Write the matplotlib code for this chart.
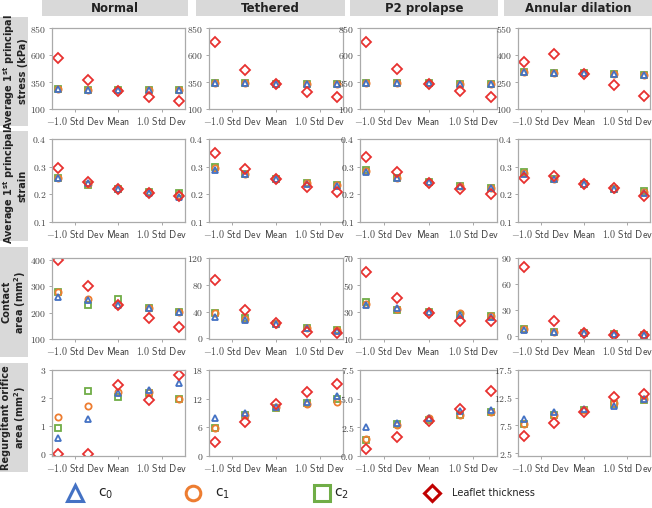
import numpy as np
import matplotlib
matplotlib.use('Agg')
import matplotlib.pyplot as plt
from matplotlib.patches import Rectangle

plt.rcParams['mathtext.fontset'] = 'cm'
plt.rcParams['mathtext.default'] = 'regular'

# ---- data -------------------------------------------------------------
conditions = ['Normal', 'Tethered', 'P2 prolapse', 'Annular dilation']
x_pos = [-1.4, -0.7, 0.0, 0.7, 1.4]          # std-dev offsets of the 5 samples
x_ticks = [-1.0, 0.0, 1.0]
x_ticklabels = ['-1.0 Std Dev', 'Mean', '1.0 Std Dev']

row_labels = ['Average 1$^{st}$ principal\nstress (kPa)',
              'Average 1$^{st}$ principal\nstrain',
              'Contact\narea (mm$^2$)',
              'Regurgitant orifice\narea (mm$^2$)']

# average 1st principal stress (kPa)
stress_c0 = [[282, 278, 277, 277, 277], [339, 337, 333, 332, 332],
             [344, 342, 337, 334, 334], [306, 300, 298, 293, 287]]
stress_c1 = [[282, 278, 276, 277, 277], [339, 337, 333, 332, 332],
             [344, 342, 337, 334, 334], [306, 300, 298, 293, 287]]
stress_c2 = [[282, 278, 277, 277, 277], [339, 337, 333, 332, 332],
             [344, 342, 337, 334, 334], [306, 300, 298, 293, 287]]
stress_th = [[571, 370, 271, 215, 178], [717, 463, 333, 258, 209],
             [722, 466, 334, 263, 210], [359, 404, 293, 235, 175]]

# average 1st principal strain
strain_c0 = [[0.258, 0.240, 0.221, 0.206, 0.191], [0.288, 0.272, 0.255, 0.238, 0.230],
             [0.282, 0.260, 0.243, 0.229, 0.223], [0.275, 0.257, 0.236, 0.219, 0.205]]
strain_c1 = [[0.258, 0.238, 0.221, 0.208, 0.198], [0.295, 0.275, 0.255, 0.240, 0.232],
             [0.285, 0.260, 0.243, 0.230, 0.223], [0.278, 0.255, 0.236, 0.221, 0.210]]
strain_c2 = [[0.258, 0.233, 0.221, 0.209, 0.205], [0.297, 0.272, 0.255, 0.242, 0.234],
             [0.288, 0.260, 0.243, 0.231, 0.224], [0.282, 0.254, 0.236, 0.221, 0.213]]
strain_th = [[0.294, 0.246, 0.221, 0.206, 0.193], [0.349, 0.291, 0.255, 0.227, 0.209],
             [0.336, 0.280, 0.242, 0.219, 0.201], [0.258, 0.266, 0.236, 0.224, 0.195]]

# contact area (mm^2)
contact_c0 = [[260, 248, 230, 219, 204], [32, 28, 22, 15, 11],
              [35, 33, 30, 28, 26], [7, 4.5, 3, 2, 1.5]]
contact_c1 = [[278, 253, 230, 219, 204], [38, 29, 22, 16, 12],
              [36, 32, 30, 29, 27], [8, 4.5, 3, 2, 1.5]]
contact_c2 = [[278, 231, 253, 219, 204], [38.5, 30, 22, 16, 12],
              [37.3, 31.7, 30, 28, 27], [8.2, 4.5, 3, 2, 1.5]]
contact_th = [[400, 302, 228, 181, 145], [86.4, 42, 22.5, 10, 7.4],
              [59.6, 40.2, 29.6, 23.1, 23.5], [79.5, 17.6, 3, 0.75, 1]]

# regurgitant orifice area (mm^2)
roa_c0 = [[0.55, 1.23, 2.18, 2.30, 2.54], [7.9, 8.9, 10.3, 11.2, 12.5],
          [2.55, 2.9, 3.3, 3.9, 4.0], [8.75, 10.0, 10.4, 11.0, 12.2]]
roa_c1 = [[1.33, 1.72, 2.20, 2.20, 1.96], [5.8, 8.5, 10.3, 10.9, 11.4],
          [1.46, 2.7, 3.3, 3.6, 3.8], [7.8, 9.4, 10.3, 11.6, 12.2]]
roa_c2 = [[0.94, 2.24, 2.02, 2.18, 1.97], [5.8, 8.5, 10.1, 11.1, 11.9],
          [1.37, 2.76, 3.17, 3.6, 3.8], [7.7, 9.4, 10.3, 11.4, 12.1]]
roa_th = [[0.0, 0.0, 2.48, 1.94, 2.82], [2.9, 7.1, 10.8, 13.4, 15.0],
          [0.6, 1.68, 3.07, 4.1, 5.7], [5.6, 8.0, 10.0, 12.7, 13.25]]

y_ticks = [
    [[100, 350, 600, 850], [100, 350, 600, 850], [100, 350, 600, 850], [100, 250, 400, 550]],
    [[0.1, 0.2, 0.3, 0.4]] * 4,
    [[100, 200, 300, 400], [0, 40, 80, 120], [10, 30, 50, 70], [0, 30, 60, 90]],
    [[0, 1, 2, 3], [0, 6, 12, 18], [0.0, 2.5, 5.0, 7.5], [2.5, 7.5, 12.5, 17.5]],
]
y_limits = [
    [(100, 850), (100, 850), (100, 850), (100, 550)],
    [(0.1, 0.4)] * 4,
    [(100, 408), (-1, 120), (10, 70), (-3.5, 90)],
    [(-0.08, 3), (0, 18), (0, 7.5), (2.0, 17.5)],
]

rows = [(stress_c0, stress_c1, stress_c2, stress_th),
        (strain_c0, strain_c1, strain_c2, strain_th),
        (contact_c0, contact_c1, contact_c2, contact_th),
        (roa_c0, roa_c1, roa_c2, roa_th)]

# ---- style ------------------------------------------------------------
BLUE, ORANGE, GREEN, RED, DARKRED = '#4472C4', '#ED7D31', '#70AD47', '#E8312F', '#C00000'
BOX = '#d9d9d9'
W, H = 652, 508

col_px = [(52, 185), (209, 343), (360, 497), (518, 650)]
row_px = [(28, 109), (139, 222), (258, 339), (370, 456)]
title_px = [(42, 188), (196, 345), (350, 498), (504, 652)]
rowbox_px = [(17, 126), (131, 241), (247, 357), (363, 472)]

fig = plt.figure(figsize=(W / 100, H / 100), dpi=100)

# background axes in pixel coordinates for boxes and legend
bg = fig.add_axes([0, 0, 1, 1], zorder=-1)
bg.set_xlim(0, W)
bg.set_ylim(H, 0)
bg.axis('off')

for (l, r), name in zip(title_px, conditions):
    bg.add_patch(Rectangle((l, 0), r - l, 16, color=BOX, lw=0))
    bg.text((l + r) / 2, 8.5, name, ha='center', va='center', fontsize=8.5,
            fontweight='bold', color='#222222')

for (t, b), lab in zip(rowbox_px, row_labels):
    bg.add_patch(Rectangle((0, t), 28, b - t, color=BOX, lw=0))
    bg.text(14.5, (t + b) / 2, lab, ha='center', va='center', rotation=90,
            fontsize=7, fontweight='bold', color='#222222', linespacing=1.1)

for i, (c0, c1, c2, th) in enumerate(rows):
    t, b = row_px[i]
    for j in range(4):
        l, r = col_px[j]
        ax = fig.add_axes([l / W, 1 - b / H, (r - l) / W, (b - t) / H])
        kw = dict(ls='none', mfc='none', mew=1.3)
        ax.plot(x_pos, c2[j], marker='s', ms=5, mec=GREEN, **kw)
        ax.plot(x_pos, c1[j], marker='o', ms=4.5, mec=ORANGE, **kw)
        ax.plot(x_pos, c0[j], marker='^', ms=4.5, mec=BLUE, **kw)
        ax.plot(x_pos, th[j], marker='D', ms=4.8, mec=RED, **kw)

        ax.set_xlim(-1.53, 1.53)
        ax.set_ylim(*y_limits[i][j])
        ax.set_xticks(x_ticks)
        ax.set_xticklabels([r'$\mathsf{%s}$' % s.replace(' ', r'\ ') for s in x_ticklabels],
                           fontsize=7.2)
        yt = y_ticks[i][j]
        ax.set_yticks(yt)
        if any(v != int(v) for v in yt):
            ax.set_yticklabels([r'$\mathrm{%.1f}$' % v for v in yt], fontsize=7)
        else:
            ax.set_yticklabels([r'$\mathrm{%d}$' % v for v in yt], fontsize=7)
        ax.tick_params(length=2.5, width=0.6, color='#999999', labelcolor='#444444', pad=1.5)
        for s in ax.spines.values():
            s.set_color('#aaaaaa')
            s.set_linewidth(0.9)

# legend row
ly = 493
bg.plot([75], [ly], marker='^', ms=12, mfc='none', mec=BLUE, mew=2.2)
bg.plot([193], [ly], marker='o', ms=10.5, mfc='none', mec=ORANGE, mew=2.2)
bg.plot([322], [ly], marker='s', ms=11.5, mfc='none', mec=GREEN, mew=2.2)
bg.plot([432], [ly], marker='D', ms=8.5, mfc='none', mec=DARKRED, mew=2.2)
for xx, s in [(98, 'c$_0$'), (215, 'c$_1$'), (334, 'c$_2$')]:
    bg.text(xx, ly + 1, s, ha='left', va='center', fontsize=10, color='#222222')
bg.text(452, ly, 'Leaflet thickness', ha='left', va='center', fontsize=7, color='#222222')

fig.savefig('out.png', dpi=100)
